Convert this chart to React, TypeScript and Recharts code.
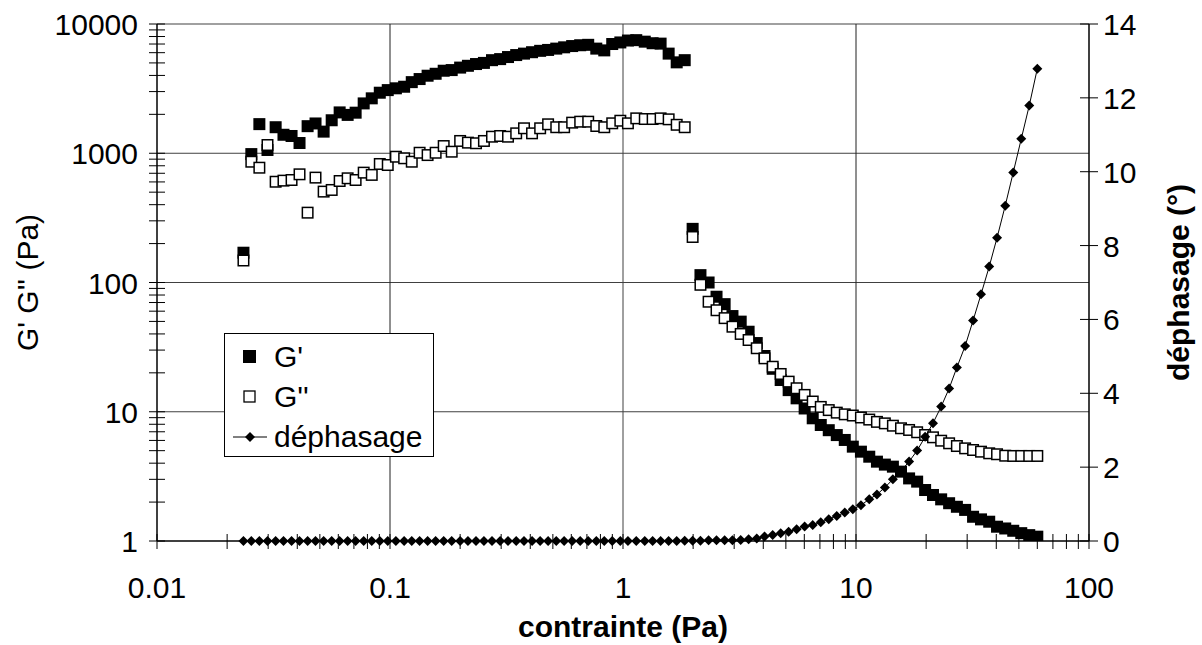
import React from "react";
import {
  ComposedChart,
  Scatter,
  XAxis,
  YAxis,
  ReferenceLine,
  Legend,
} from "recharts";

const FONT = "'Liberation Sans', Arial, sans-serif";
const FS = 30;

// contrainte (Pa)
const stress = [
  0.0235, 0.0254, 0.0275, 0.0298, 0.0323, 0.0349, 0.0378, 0.0409, 0.0443, 0.0479,
  0.0519, 0.0562, 0.0608, 0.0658, 0.0712, 0.0771, 0.0835, 0.0904, 0.0978, 0.106,
  0.115, 0.124, 0.134, 0.145, 0.157, 0.17, 0.184, 0.2, 0.216, 0.234,
  0.253, 0.274, 0.297, 0.321, 0.348, 0.376, 0.407, 0.441, 0.477, 0.517,
  0.559, 0.605, 0.655, 0.709, 0.768, 0.831, 0.899, 0.974, 1.05, 1.14,
  1.24, 1.34, 1.45, 1.57, 1.7, 1.84, 1.99, 2.15, 2.33, 2.52,
  2.73, 2.95, 3.2, 3.46, 3.75, 4.05, 4.39, 4.75, 5.14, 5.56,
  6.02, 6.52, 7.06, 7.64, 8.27, 8.95, 9.69, 10.5, 11.4, 12.3,
  13.3, 14.4, 15.6, 16.9, 18.3, 19.8, 21.4, 23.2, 25.1, 27.1,
  29.4, 31.8, 34.4, 37.3, 40.3, 43.7, 47.3, 51.2, 55.4, 60.0,
];

// G' (Pa)
const gPrime = [
  170, 985, 1680, 1060, 1590, 1390, 1360, 1200, 1620, 1700,
  1470, 1800, 2070, 1980, 2060, 2430, 2660, 2940, 3080, 3180,
  3270, 3550, 3750, 3980, 4120, 4350, 4400, 4600, 4750, 4900,
  5000, 5250, 5350, 5550, 5750, 5900, 6050, 6200, 6300, 6450,
  6600, 6750, 6850, 6900, 6450, 6250, 7000, 7200, 7450, 7500,
  7300, 7100, 7050, 5900, 5050, 5250, 260, 114, 100, 77.6,
  68, 55, 49.8, 41.6, 34, 27, 21.5, 17.6, 14.7, 12.7,
  10.6, 8.9, 7.9, 7.2, 6.6, 6.05, 5.37, 4.91, 4.49, 4.11,
  3.9, 3.76, 3.44, 3.05, 2.88, 2.48, 2.27, 2.1, 1.96, 1.84,
  1.74, 1.54, 1.47, 1.41, 1.29, 1.25, 1.2, 1.15, 1.11, 1.08,
];

// G'' (Pa)
const gSecond = [
  148, 860, 773, 1158, 602, 614, 621, 687, 347, 648,
  505, 520, 610, 640, 621, 708, 680, 826, 811, 940,
  914, 860, 1009, 968, 1009, 1137, 1028, 1245, 1208, 1195,
  1245, 1343, 1360, 1343, 1426, 1560, 1426, 1560, 1675, 1590,
  1590, 1725, 1755, 1755, 1625, 1590, 1705, 1785, 1705, 1862,
  1840, 1840, 1862, 1830, 1660, 1590, 225, 96, 71, 61,
  53, 45.5, 40, 35.9, 31, 25.9, 22.3, 19.6, 17.1, 15.2,
  13.5, 12.0, 10.9, 10.3, 9.84, 9.55, 9.35, 9.03, 8.7, 8.35,
  8.13, 7.8, 7.45, 7.23, 6.94, 6.61, 6.34, 5.97, 5.7, 5.43,
  5.21, 5.06, 4.91, 4.77, 4.69, 4.57, 4.55, 4.55, 4.55, 4.55,
];

// déphasage (°)
const phase = [
  0, 0, 0, 0, 0, 0, 0, 0, 0, 0,
  0, 0, 0, 0, 0, 0, 0, 0, 0, 0,
  0, 0, 0, 0, 0, 0, 0, 0, 0, 0,
  0, 0, 0, 0, 0, 0, 0, 0, 0, 0,
  0, 0, 0, 0, 0, 0, 0, 0, 0, 0,
  0, 0, 0, 0, 0, 0.01, 0.01, 0.01, 0.02, 0.02,
  0.02, 0.02, 0.03, 0.05, 0.07, 0.12, 0.16, 0.21, 0.25, 0.32,
  0.39, 0.43, 0.51, 0.59, 0.68, 0.77, 0.86, 0.97, 1.13, 1.26,
  1.45, 1.67, 1.9, 2.15, 2.45, 2.82, 3.19, 3.64, 4.13, 4.7,
  5.28, 5.97, 6.68, 7.43, 8.21, 9.08, 9.98, 10.89, 11.79, 12.79,
];

const xTicks = [
  0.01, 0.02, 0.03, 0.04, 0.05, 0.06, 0.07, 0.08, 0.09,
  0.1, 0.2, 0.3, 0.4, 0.5, 0.6, 0.7, 0.8, 0.9,
  1, 2, 3, 4, 5, 6, 7, 8, 9,
  10, 20, 30, 40, 50, 60, 70, 80, 90, 100,
];
const xMajor = [0.01, 0.1, 1, 10, 100];

const yTicks = [
  1, 2, 3, 4, 5, 6, 7, 8, 9,
  10, 20, 30, 40, 50, 60, 70, 80, 90,
  100, 200, 300, 400, 500, 600, 700, 800, 900,
  1000, 2000, 3000, 4000, 5000, 6000, 7000, 8000, 9000, 10000,
];
const yMajor = [1, 10, 100, 1000, 10000];
const phaseTicks = [0, 2, 4, 6, 8, 10, 12, 14];

const gPrimeData = stress.map((x, i) => ({ x, y: gPrime[i] }));
const gSecondData = stress.map((x, i) => ({ x, y: gSecond[i] }));
const phaseData = stress.map((x, i) => ({ x, y: phase[i] }));

const XTick = (props: any) => {
  const { x, y, payload } = props;
  const major = xMajor.includes(payload.value);
  return (
    <g>
      <line x1={x} x2={x} y1={y - 7} y2={y + 8} stroke="#000" strokeWidth={1} />
      {major && (
        <text x={x} y={y + 57} textAnchor="middle" fontFamily={FONT} fontSize={FS} fill="#000">
          {payload.value}
        </text>
      )}
    </g>
  );
};

const LeftTick = (props: any) => {
  const { x, y, payload } = props;
  const major = yMajor.includes(payload.value);
  return (
    <g>
      <line x1={x - 8} x2={x + 8} y1={y} y2={y} stroke="#000" strokeWidth={1} />
      {major && (
        <text x={x - 19} y={y + 11} textAnchor="end" fontFamily={FONT} fontSize={FS} fill="#000">
          {payload.value}
        </text>
      )}
    </g>
  );
};

const RightTick = (props: any) => {
  const { x, y, payload } = props;
  return (
    <g>
      <line x1={x - 9} x2={x + 9} y1={y} y2={y} stroke="#000" strokeWidth={1} />
      <text x={x + 14} y={y + 11} textAnchor="start" fontFamily={FONT} fontSize={FS} fill="#000">
        {payload.value}
      </text>
    </g>
  );
};

const LeftLabel = (props: any) => {
  const { viewBox } = props;
  const bx = viewBox.x + 38;
  const cy = viewBox.y + viewBox.height / 2;
  return (
    <text
      x={bx}
      y={cy}
      transform={`rotate(-90, ${bx}, ${cy})`}
      textAnchor="middle"
      fontFamily={FONT}
      fontSize={FS}
      fill="#000"
    >
      G' G'' (Pa)
    </text>
  );
};

const RightLabel = (props: any) => {
  const { viewBox } = props;
  const bx = viewBox.x + 100;
  const cy = viewBox.y + viewBox.height / 2;
  return (
    <text
      x={bx}
      y={cy}
      transform={`rotate(-90, ${bx}, ${cy})`}
      textAnchor="middle"
      fontFamily={FONT}
      fontSize={FS}
      fontWeight="bold"
      fill="#000"
    >
      déphasage (°)
    </text>
  );
};

const BottomLabel = (props: any) => {
  const { viewBox } = props;
  return (
    <text
      x={viewBox.x + viewBox.width / 2}
      y={viewBox.y + 96}
      textAnchor="middle"
      fontFamily={FONT}
      fontSize={FS}
      fontWeight="bold"
      fill="#000"
    >
      contrainte (Pa)
    </text>
  );
};

const FilledSquare = (props: any) => {
  const { cx, cy } = props;
  return <rect x={cx - 6} y={cy - 6} width={12} height={12} fill="#000" />;
};

const OpenSquare = (props: any) => {
  const { cx, cy } = props;
  return (
    <rect x={cx - 5.25} y={cy - 5.25} width={10.5} height={10.5} fill="#fff" stroke="#000" strokeWidth={1.5} />
  );
};

const Diamond = (props: any) => {
  const { cx, cy } = props;
  return (
    <polygon
      points={`${cx},${cy - 5} ${cx + 5},${cy} ${cx},${cy + 5} ${cx - 5},${cy}`}
      fill="#000"
    />
  );
};

const legendItems = [
  { name: "G'", kind: "filled" },
  { name: "G''", kind: "open" },
  { name: "déphasage", kind: "line" },
];

const LegendBox = () => (
  <div
    style={{
      width: 210,
      height: 124,
      boxSizing: "border-box",
      border: "1px solid #000",
      background: "#fff",
      paddingTop: 3,
      fontFamily: FONT,
      fontSize: FS,
      color: "#000",
    }}
  >
    {legendItems.map((item) => (
      <div key={item.name} style={{ display: "flex", alignItems: "center", height: 40 }}>
        <svg width={48} height={20} style={{ flex: "none" }}>
          {item.kind === "filled" && <rect x={18} y={3} width={13} height={13} fill="#000" />}
          {item.kind === "open" && (
            <rect x={19} y={4} width={11} height={11} fill="#fff" stroke="#000" strokeWidth={1.3} />
          )}
          {item.kind === "line" && (
            <g>
              <line x1={8} x2={42} y1={10} y2={10} stroke="#000" strokeWidth={1} />
              <polygon points="25,5 30,10 25,15 20,10" fill="#000" />
            </g>
          )}
        </svg>
        <span style={{ marginLeft: 1, lineHeight: 1 }}>{item.name}</span>
      </div>
    ))}
  </div>
);

export default function App() {
  return (
    <div style={{ width: 1202, height: 645 }}>
      <style>{"body{margin:0}"}</style>
      <ComposedChart
        width={1202}
        height={645}
        margin={{ top: 24, right: 0, bottom: 0, left: 0 }}
      >
        <XAxis
          dataKey="x"
          type="number"
          scale="log"
          domain={[0.01, 100]}
          allowDataOverflow
          ticks={xTicks}
          interval={0}
          tickSize={0}
          tickMargin={0}
          tick={<XTick />}
          height={104}
          axisLine={{ stroke: "#000", strokeWidth: 1.5 }}
          label={<BottomLabel />}
        />
        <YAxis
          yAxisId="left"
          dataKey="y"
          type="number"
          scale="log"
          domain={[1, 10000]}
          allowDataOverflow
          ticks={yTicks}
          interval={0}
          tickSize={0}
          tickMargin={0}
          tick={<LeftTick />}
          width={157}
          axisLine={{ stroke: "#000", strokeWidth: 1.5 }}
          label={<LeftLabel />}
        />
        <YAxis
          yAxisId="right"
          orientation="right"
          dataKey="y"
          type="number"
          domain={[0, 14]}
          ticks={phaseTicks}
          interval={0}
          tickSize={0}
          tickMargin={0}
          tick={<RightTick />}
          width={113}
          axisLine={{ stroke: "#000", strokeWidth: 1.5 }}
          label={<RightLabel />}
        />
        <ReferenceLine yAxisId="left" y={10000} stroke="#a0a0a0" strokeWidth={2} />
        <ReferenceLine yAxisId="left" y={1000} stroke="#404040" />
        <ReferenceLine yAxisId="left" y={100} stroke="#404040" />
        <ReferenceLine yAxisId="left" y={10} stroke="#404040" />
        <ReferenceLine yAxisId="left" x={0.1} stroke="#202020" />
        <ReferenceLine yAxisId="left" x={1} stroke="#404040" />
        <ReferenceLine yAxisId="left" x={10} stroke="#202020" />
        <Scatter
          name="G'"
          yAxisId="left"
          data={gPrimeData}
          dataKey="y"
          shape={<FilledSquare />}
          isAnimationActive={false}
        />
        <Scatter
          name="G''"
          yAxisId="left"
          data={gSecondData}
          dataKey="y"
          shape={<OpenSquare />}
          isAnimationActive={false}
        />
        <Scatter
          name="déphasage"
          yAxisId="right"
          data={phaseData}
          dataKey="y"
          shape={<Diamond />}
          line={{ stroke: "#000", strokeWidth: 1 }}
          lineType="joint"
          isAnimationActive={false}
        />
        <Legend
          layout="horizontal"
          verticalAlign="middle"
          align="center"
          content={<LegendBox />}
          wrapperStyle={{ left: 224, top: 333, width: 210, height: 124 }}
        />
      </ComposedChart>
    </div>
  );
}
